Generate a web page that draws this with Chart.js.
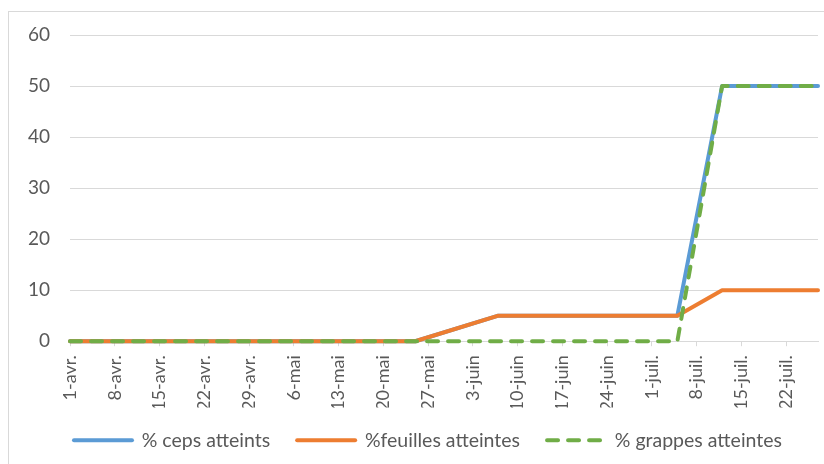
<!DOCTYPE html>
<html>
<head>
<meta charset="utf-8">
<script src="https://cdn.jsdelivr.net/npm/chart.js@4"></script>
<style>
  html, body { margin: 0; padding: 0; background: #fff; }
  #wrap { width: 824px; height: 464px; }
</style>
</head>
<body>
<div id="wrap"><canvas id="graphique" width="824" height="464"></canvas></div>
<script>
// jours depuis le 1er avril (dates des relevés)
const jours = [0, 54, 67, 95, 102, 117];
const ceps = [0, 0, 5, 5, 50, 50];
const feuilles = [0, 0, 5, 5, 10, 10];
const grappes = [0, 0, 0, 0, 50, 50];

// graduations de l'axe des dates (toutes les semaines)
const joursGraduations = [0, 7, 14, 21, 28, 35, 42, 49, 56, 63, 70, 77, 84, 91, 98, 105, 112];
const etiquettesDates = ['1-avr.', '8-avr.', '15-avr.', '22-avr.', '29-avr.', '6-mai', '13-mai', '20-mai',
  '27-mai', '3-juin', '10-juin', '17-juin', '24-juin', '1-juil.', '8-juil.', '15-juil.', '22-juil.'];
const graduationsY = [0, 10, 20, 30, 40, 50, 60];

const gris = '#595959';
const grille = '#d9d9d9';
const famille = 'Lato, "Open Sans", sans-serif';

function points(valeurs) {
  return jours.map((j, i) => ({ x: j, y: valeurs[i] }));
}

// cadre du graphique + légende décalée comme dans Excel
const cadre = {
  id: 'cadre',
  afterLayout(chart) {
    const leg = chart.legend;
    leg.left += 15;
    leg.right += 15;
    leg.top -= 4;
    leg.bottom -= 4;
  },
  beforeDraw(chart) {
    const c = chart.ctx;
    c.save();
    c.strokeStyle = grille;
    c.lineWidth = 1;
    c.strokeRect(8.5, 11.5, 900, 500);
    c.restore();
  }
};

const ctx = document.getElementById('graphique').getContext('2d');

new Chart(ctx, {
  type: 'line',
  data: {
    datasets: [
      {
        label: '% ceps atteints',
        data: points(ceps),
        borderColor: '#5B9BD5',
        backgroundColor: '#5B9BD5',
        borderWidth: 4,
        clip: false,
        order: 3
      },
      {
        label: '%feuilles atteintes',
        data: points(feuilles),
        borderColor: '#ED7D31',
        backgroundColor: '#ED7D31',
        borderWidth: 4,
        clip: false,
        order: 2
      },
      {
        label: '% grappes atteintes',
        data: points(grappes),
        borderColor: '#70AD47',
        backgroundColor: '#70AD47',
        borderWidth: 4,
        borderDash: [11, 10],
        clip: false,
        order: 1
      }
    ]
  },
  options: {
    responsive: false,
    animation: false,
    layout: { padding: { left: 8, right: 6, top: 35, bottom: 0 } },
    elements: {
      point: { radius: 0 },
      line: { tension: 0, borderCapStyle: 'round', borderJoinStyle: 'round' }
    },
    plugins: {
      legend: {
        position: 'bottom',
        labels: {
          usePointStyle: true,
          pointStyle: 'line',
          pointStyleWidth: 58,
          padding: 27,
          color: gris,
          font: { family: famille, size: 19.5 },
          sort: (a, b) => a.datasetIndex - b.datasetIndex,
          // le pointillé des séries n'est pas repris par défaut dans la légende
          generateLabels: (chart) => Chart.defaults.plugins.legend.labels.generateLabels(chart).map(item => {
            item.lineDash = chart.data.datasets[item.datasetIndex].borderDash || [];
            item.lineCap = 'round';
            return item;
          })
        }
      },
      tooltip: { enabled: false }
    },
    scales: {
      x: {
        type: 'linear',
        min: 0,
        max: 117,
        afterBuildTicks: (axe) => {
          axe.ticks = joursGraduations.map(v => ({ value: v }));
        },
        afterFit: (axe) => {
          axe.height = axe.height - 13;
        },
        ticks: {
          autoSkip: false,
          minRotation: 90,
          maxRotation: 90,
          padding: 9,
          color: gris,
          font: { family: famille, size: 18 },
          callback: (v) => etiquettesDates[joursGraduations.indexOf(v)]
        },
        grid: { drawOnChartArea: false, tickLength: 5, color: grille },
        border: { color: grille }
      },
      y: {
        min: 0,
        max: 60,
        afterBuildTicks: (axe) => {
          axe.ticks = graduationsY.map(v => ({ value: v }));
        },
        ticks: { padding: 20, color: gris, font: { family: famille, size: 19 } },
        grid: { color: grille, drawTicks: false },
        border: { display: false }
      }
    }
  },
  plugins: [cadre]
});
</script>
</body>
</html>
